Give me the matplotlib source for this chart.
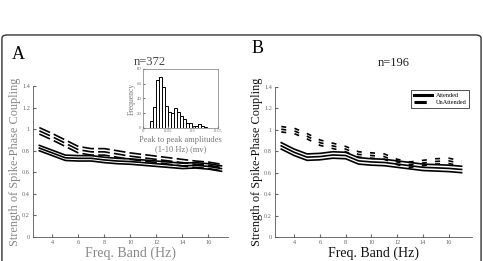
import matplotlib
matplotlib.use("Agg")
import matplotlib.pyplot as plt
from matplotlib.patches import FancyBboxPatch
from matplotlib.lines import Line2D
import numpy as np

plt.rcParams['font.family'] = ['Liberation Serif', 'DejaVu Serif']

freq = list(range(3, 18))

# panel A (n=372)
a_att = [0.825, 0.78, 0.735, 0.73, 0.73, 0.715, 0.705, 0.70, 0.69, 0.68, 0.67, 0.66, 0.665, 0.655, 0.635]
a_att_sem = 0.025
a_un = [0.985, 0.93, 0.87, 0.81, 0.79, 0.79, 0.77, 0.75, 0.735, 0.72, 0.705, 0.69, 0.675, 0.665, 0.645]
a_un_sem = 0.03

# panel B (n=196)
b_att = [0.85, 0.79, 0.745, 0.75, 0.765, 0.76, 0.71, 0.70, 0.695, 0.68, 0.665, 0.65, 0.645, 0.64, 0.63]
b_att_sem = 0.03
b_un = [1.005, 0.99, 0.94, 0.88, 0.85, 0.82, 0.77, 0.76, 0.75, 0.70, 0.675, 0.69, 0.705, 0.71, 0.685]
b_un_sem = 0.025

# inset histogram (peak to peak amplitudes)
bin_left = [0.015 + 0.006 * i for i in range(20)]
bin_count = [10, 29, 65, 69, 56, 30, 22, 20, 27, 21, 16, 12, 6, 6, 3, 2, 5, 3, 1, 0]

yticks = [0, 0.2, 0.4, 0.6, 0.8, 1.0, 1.2, 1.4]
ytick_labels = ['0', '0.2', '0.4', '0.6', '0.8', '1', '1.2', '1.4']
xticks = [4, 6, 8, 10, 12, 14, 16]

fig = plt.figure(figsize=(4.83, 2.61), dpi=100)

# rounded frame
frame = FancyBboxPatch((0.004, -0.2), 0.992, 1.066, boxstyle="round,pad=0,rounding_size=0.012",
                       transform=fig.transFigure, fill=False, ec='#333333', lw=1.0)
fig.patches.append(frame)


def panel(ax, att, att_sem, un, un_sem, dash, col, xlim):
    att = np.array(att)
    un = np.array(un)
    for off in (-un_sem, 0, un_sem):
        ax.plot(freq, un + off, color='black', lw=1.2, ls=dash)
    for off in (-att_sem, 0, att_sem):
        ax.plot(freq, att + off, color='black', lw=1.2)
    ax.set_xlim(*xlim)
    ax.set_ylim(0, 1.4)
    ax.set_xticks(xticks)
    ax.set_yticks(yticks)
    ax.set_yticklabels(ytick_labels)
    ax.tick_params(direction='in', length=2, labelsize=4.5, colors='#666666', pad=2)
    for s in ('top', 'right'):
        ax.spines[s].set_visible(False)
    for s in ('left', 'bottom'):
        ax.spines[s].set_color('#555555')
        ax.spines[s].set_linewidth(0.6)
    ax.set_xlabel('Freq. Band (Hz)', fontsize=10, color=col, labelpad=1)
    ax.set_ylabel('Strength of Spike-Phase Coupling', fontsize=8.8, color=col, labelpad=1)


axA = fig.add_axes([0.068, 0.092, 0.404, 0.578])
panel(axA, a_att, a_att_sem, a_un, a_un_sem, (0, (7, 2.5)), '#888888', (2.5, 17.5))

axB = fig.add_axes([0.569, 0.092, 0.408, 0.575])
panel(axB, b_att, b_att_sem, b_un, b_un_sem, (0, (3, 5)), '#111111', (2.5, 17.8))

leg_handles = [Line2D([], [], color='black', lw=2.2),
               Line2D([], [], color='black', lw=2.2, ls=(0, (4, 2, 1, 2)))]
leg = axB.legend(leg_handles, ['Attended', 'UnAttended'], loc='upper right',
                 bbox_to_anchor=(1.0, 1.0), fontsize=4.5, frameon=True, fancybox=False,
                 edgecolor='black', handlelength=3, borderpad=0.4, labelspacing=0.3,
                 handletextpad=0.5)
leg.get_frame().set_linewidth(0.6)

fig.text(0.025, 0.79, 'A', fontsize=13, ha='left', va='center')
fig.text(0.52, 0.815, 'B', fontsize=13, ha='left', va='center')
fig.text(0.31, 0.762, 'n=372', fontsize=9, ha='center', va='center', color='#444444')
fig.text(0.815, 0.757, 'n=196', fontsize=9, ha='center', va='center', color='#222222')

# inset
axI = fig.add_axes([0.296, 0.51, 0.155, 0.226])
axI.bar(bin_left, bin_count, width=0.006, align='edge', color='white', edgecolor='black', lw=0.7)
axI.set_xlim(0, 0.15)
axI.set_ylim(0, 80)
axI.set_xticks([0, 0.05, 0.1, 0.15])
axI.set_xticklabels(['0', '0.05', '0.1', '0.15'])
axI.set_yticks([0, 20, 40, 60, 80])
axI.tick_params(direction='in', length=1.5, labelsize=3.5, colors='#777777', pad=1)
for s in axI.spines.values():
    s.set_color('#777777')
    s.set_linewidth(0.5)
axI.set_ylabel('Frequency', fontsize=5.5, color='#777777', labelpad=1)
axI.set_xlabel('Peak to peak amplitudes\n(1-10 Hz) (mv)', fontsize=6, color='#777777',
               labelpad=2, linespacing=1.2)

fig.savefig('out.png', dpi=100)
